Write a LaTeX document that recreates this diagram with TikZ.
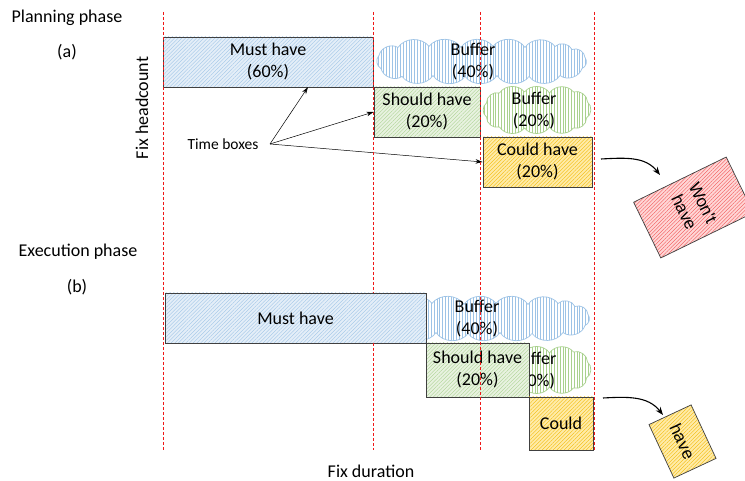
\documentclass[tikz,border=0pt]{standalone}
\usepackage{fontspec}
\setmainfont{Carlito}
\newfontfamily\arialfont{Liberation Sans}
\usetikzlibrary{patterns.meta, arrows.meta, calc}

\definecolor{mustfill}{HTML}{E4EEF8}
\definecolor{musthatch}{HTML}{9DC3E6}
\definecolor{shouldfill}{HTML}{E8F2E0}
\definecolor{shouldhatch}{HTML}{A9D18E}
\definecolor{couldfill}{HTML}{FFEBA8}
\definecolor{couldhatch}{HTML}{F2B800}
\definecolor{wontfill}{HTML}{FFD6D6}
\definecolor{wonthatch}{HTML}{F05050}
\definecolor{edge}{HTML}{404040}
\definecolor{guide}{HTML}{F01818}

\tikzset{
  txt/.style={font=\fontsize{18}{22}\selectfont, align=center, inner sep=0pt},
  small/.style={font=\fontsize{15.5}{18}\selectfont, inner sep=0pt},
  hatched/.style 2 args={preaction={fill=#1},
      pattern={Lines[angle=45,distance=2.6pt,line width=0.35pt]}, pattern color=#2},
  timebox/.style={txt, draw=edge, line width=0.9pt},
  mustbox/.style={timebox, hatched={mustfill}{musthatch}},
  shouldbox/.style={timebox, hatched={shouldfill}{shouldhatch}},
  couldbox/.style={timebox, hatched={couldfill}{couldhatch}},
  dropbox/.style 2 args={draw=edge, line width=0.7pt, align=center, inner sep=0pt,
      font=\arialfont\fontsize{17}{21}\selectfont, hatched={#1}{#2}},
  bufcloud/.style={draw=#1, line width=0.7pt, line join=round,
      pattern={Lines[angle=90,distance=2.8pt,line width=0.4pt]}, pattern color=#1},
  guideline/.style={color=guide, line width=1.1pt, dash pattern=on 3pt off 2pt},
  pointer/.style={draw=black, line width=0.5pt, -{Stealth[length=7pt,width=4.5pt]}},
  moveto/.style={draw=black, line width=1.1pt, -{Stealth[length=8pt,width=6pt]}},
  % long buffer cloud, 215 x 45
  bluepuffs/.pic={
    \path[bufcloud=musthatch] (-103,6)
      to[bend left=55] (-84,14) to[bend left=55] (-53,15) to[bend left=55] (-21,14)
      to[bend left=55] (11,15) to[bend left=55] (43,14) to[bend left=55] (73,15)
      to[bend left=55] (90,12) to[bend left=55] (103,4) to[bend left=55] (100,-7)
      to[bend left=55] (78,-14) to[bend left=55] (47,-15) to[bend left=55] (15,-14)
      to[bend left=55] (-17,-15) to[bend left=55] (-49,-14) to[bend left=55] (-80,-15)
      to[bend left=55] (-101,-7) to[bend left=55] cycle;
  },
  % short buffer cloud, 109 x 50
  greenpuffs/.pic={
    \path[bufcloud=shouldhatch] (-51,7)
      to[bend left=55] (-38,17) to[bend left=55] (-13,18) to[bend left=55] (12,17)
      to[bend left=55] (36,18) to[bend left=55] (50,8) to[bend left=55] (49,-8)
      to[bend left=55] (36,-18) to[bend left=55] (12,-17) to[bend left=55] (-13,-18)
      to[bend left=55] (-38,-17) to[bend left=55] (-51,-7) to[bend left=55] cycle;
  },
}

\begin{document}
\begin{tikzpicture}[x=1pt, y=1pt]
  \clip (0,0) rectangle (745,481);
  \fill[white] (0,0) rectangle (745,481);

  % ---------------- planning phase ----------------
  \pic (bufA) at (482,419.5) {bluepuffs};
  \node[txt] (bufAtext) at (473,419.5) {Buffer\\(40\%)};
  \pic (bufB) at (537.5,371) {greenpuffs};
  \node[txt] (bufBtext) at (534,370) {Buffer\\(20\%)};

  \node[mustbox, minimum width=210, minimum height=50] (mustA) at (268,419) {Must have\\(60\%)};
  \node[shouldbox, minimum width=106, minimum height=50] (shouldA) at (427,369) {Should have\\(20\%)};
  \node[couldbox, minimum width=109, minimum height=50] (couldA) at (537.5,319) {Could have\\(20\%)};

  \node[dropbox={wontfill}{wonthatch}, minimum width=62, minimum height=103, rotate=-64]
        (wont) at (693.5,273.5) {Won't\\have};

  \node[small] (tb) at (223,337) {Time boxes};
  \coordinate (tbx) at (270,337);
  \draw[pointer] (tbx) -- ($(mustA.south west)!0.69!(mustA.south east)$);
  \draw[pointer] (tbx) -- (shouldA.west);
  \draw[pointer] (tbx) -- (couldA.west);

  \coordinate (dropA) at (601,322);
  \coordinate (dropAend) at (660,306);
  \draw[moveto] (dropA) to[out=3, in=128] (dropAend);

  % ---------------- execution phase ----------------
  \pic (bufC) at (485,162.5) {bluepuffs};
  \node[txt] (bufCtext) at (477,162.5) {Buffer\\(40\%)};
  \pic (bufD) at (537.5,111) {greenpuffs};
  \node[txt] (bufDtext) at (534,110) {Buffer\\(20\%)};

  \node[mustbox, minimum width=261, minimum height=50] (mustB) at (295.5,163) {Must have};
  \node[shouldbox, minimum width=103, minimum height=54] (shouldB) at (477.5,111) {Should have\\(20\%)};
  \node[couldbox, minimum width=64, minimum height=53] (couldB) at (561,57.5) {Could};

  \node[dropbox={couldfill}{couldhatch}, minimum width=59, minimum height=46.5, rotate=-65]
        (haveB) at (682.5,39.5) {have};

  \coordinate (dropB) at (603,83);
  \coordinate (dropBend) at (663,66);
  \draw[moveto] (dropB) to[out=3, in=128] (dropBend);

  % guide lines; the one at 373 passes behind the long execution box
  \begin{scope}[guideline]
    \draw (480.5,469) -- (480.5,31);
    \draw (594.5,469) -- (594.5,31);
    \draw (163.5,469) -- (163.5,31);
    \draw (373.5,469) -- (373.5,188);
    \draw (373.5,138) -- (373.5,31);
  \end{scope}

  % ---------------- labels ----------------
  \node[txt] (plan) at (67,463) {Planning phase};
  \node[txt] (pa) at (67,429) {(a)};
  \node[txt] (exec) at (78,229) {Execution phase};
  \node[txt] (pb) at (77,194) {(b)};
  \node[txt, rotate=90] (head) at (142,373) {Fix headcount};
  \node[txt] (dur) at (371,10) {Fix duration};
\end{tikzpicture}
\end{document}
